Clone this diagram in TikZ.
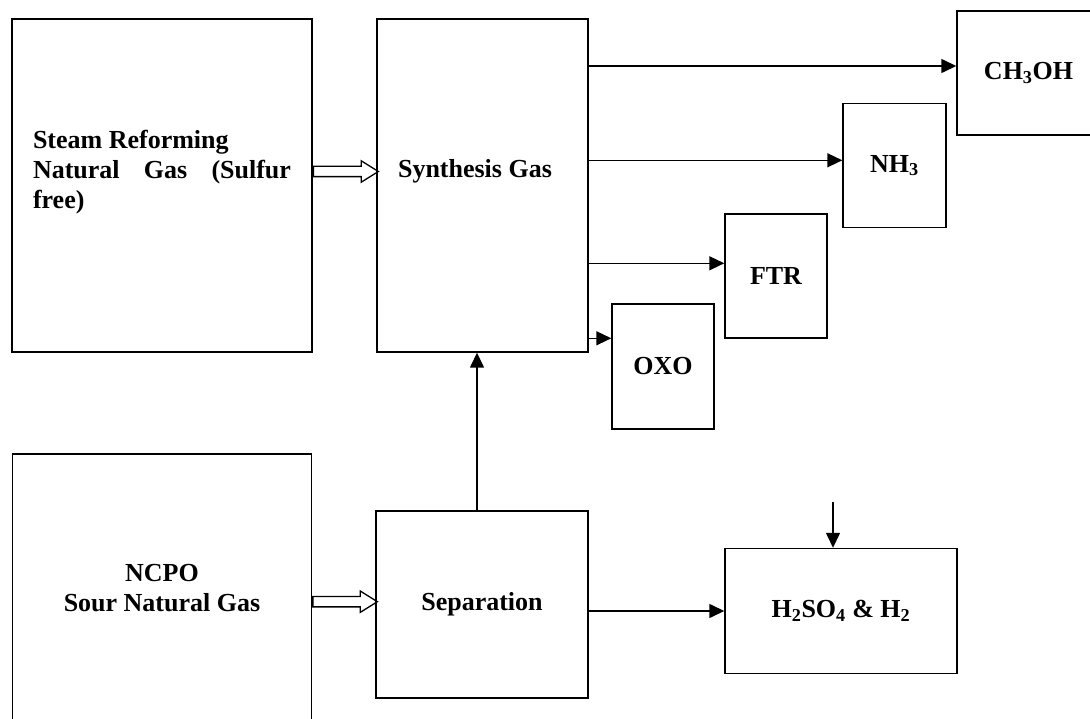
\documentclass[tikz,border=0pt]{standalone}
\usepackage{fontspec}
\setmainfont{Liberation Serif}
\usetikzlibrary{calc, positioning, arrows.meta, shapes.arrows}

\begin{document}
\begin{tikzpicture}[x=1pt, y=-1pt,
    box/.style={draw, line width=1.4pt, inner sep=0pt, font=\fontsize{26}{30}\selectfont\bfseries},
    lbl/.style={inner sep=0pt, font=\fontsize{26}{30}\selectfont\bfseries},
    flow/.style={-{Triangle[length=15pt, width=14pt]}, line width=1.4pt},
    feed/.style={single arrow, draw, line width=1.3pt, inner xsep=0pt, inner ysep=4.5pt, single arrow head extend=5.5pt, single arrow tip angle=64, anchor=tail}]
  \useasboundingbox (0,0) rectangle (1090,719);
  \clip (0,0) rectangle (1090,719);

  % feed and synthesis gas
  \node[box, minimum width=300pt, minimum height=333pt] (steam) at (162,185.5) {};
  \node[lbl, text width=258pt, align=justify] (steamlbl) at (162,172) {Steam Reforming\\ Natural Gas (Sulfur free)};
  \node[box, minimum width=211pt, minimum height=333pt] (synth) at (482.5,185.5) {};
  \node[lbl] (synthlbl) at (475,171) {Synthesis Gas};

  % products
  \node[box, minimum width=143pt, minimum height=124pt] (ch3oh) at (1028.5,73) {CH\textsubscript{3}OH};
  \node[box, minimum width=103pt, minimum height=124.5pt] (nh3) at (894.5,165.5) {NH\textsubscript{3}};
  \node[box, minimum width=102pt, minimum height=124pt] (ftr) at (776,276) {FTR};
  \node[box, minimum width=102pt, minimum height=125pt] (oxo) at (663,366.5) {OXO};

  % sour gas line
  \node[box, minimum width=299pt, minimum height=268pt, align=center] (ncpo) at (162,588) {NCPO\\ Sour Natural Gas};
  \node[box, minimum width=212pt, minimum height=187pt] (sep) at (482,604.5) {Separation};
  \node[box, minimum width=232pt, minimum height=125pt] (h2so4) at (841,611) {H\textsubscript{2}SO\textsubscript{4} \& H\textsubscript{2}};

  \node[feed, minimum height=65pt] (feed1) at ([yshift=14pt]steam.east) {};
  \node[feed, minimum height=64.5pt] (feed2) at ([yshift=-13.7pt]ncpo.east) {};

  \coordinate (in1) at ([yshift=7pt]ch3oh.west);
  \coordinate (in2) at ([yshift=5.2pt]nh3.west);
  \coordinate (in3) at ([yshift=12.7pt]ftr.west);
  \coordinate (in4) at ([yshift=28.2pt]oxo.west);
  \draw[flow] (in1 -| synth.east) -- (in1);
  \draw[flow] (in2 -| synth.east) -- (in2);
  \draw[flow] (in3 -| synth.east) -- (in3);
  \draw[flow] (in4 -| synth.east) -- (in4);

  \coordinate (up) at ([xshift=-5pt]sep.north);
  \draw[flow] (up) -- (up |- synth.south);
  \draw[flow] (sep.east |- h2so4.west) -- (h2so4.west);
  \coordinate (drop) at ([xshift=-8pt]h2so4.north);
  \coordinate (dropin) at ([yshift=46pt]drop);
  \draw[flow] (dropin) -- (drop);
\end{tikzpicture}
\end{document}
